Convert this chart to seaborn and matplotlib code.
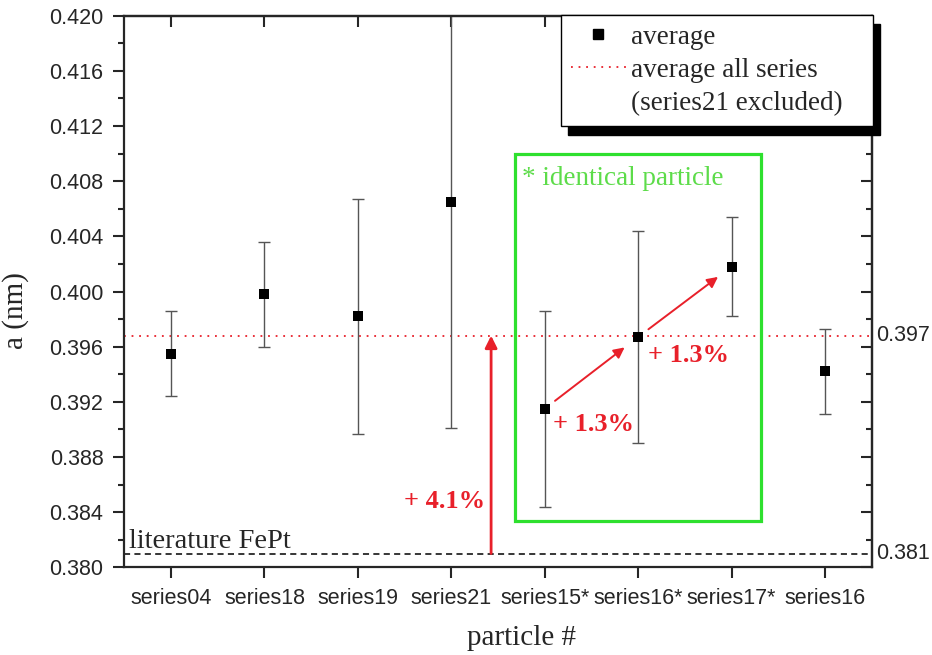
import matplotlib
matplotlib.use("Agg")
import matplotlib.pyplot as plt
import seaborn as sns
import pandas as pd
from matplotlib.lines import Line2D
from matplotlib.patches import Rectangle
from matplotlib.ticker import MultipleLocator, FormatStrFormatter

# ---- data ----
particles = ["series04", "series18", "series19", "series21",
             "series15*", "series16*", "series17*", "series16"]
lattice_a = [0.3955, 0.3998, 0.3982, 0.4065, 0.3915, 0.3967, 0.4018, 0.3942]
lattice_err = [0.0031, 0.0038, 0.0085, 0.0164, 0.0071, 0.0077, 0.0036, 0.0031]
average_all = 0.3968
literature_fept = 0.381
right_labels = ["0.397", "0.381"]
increase_labels = ["+ 4.1%", "+ 1.3%", "+ 1.3%"]

df = pd.DataFrame({"particle": particles, "a": lattice_a, "err": lattice_err})

sns.set_style("ticks")
SERIF = "Liberation Serif"
SANS = "Liberation Sans"
plt.rcParams["font.family"] = [SANS, "DejaVu Sans"]

RED = "#e8202a"
GREEN = "#2ee02e"
GREEN_TXT = "#5ddc4a"

fig = plt.figure(figsize=(9.32, 6.55), dpi=100)
ax = fig.add_axes([0.1334, 0.1339, 0.8019, 0.8421])

ax.errorbar(df["particle"], df["a"], yerr=df["err"], fmt="none",
            ecolor="#555555", elinewidth=1.0, capsize=4, capthick=1.0, zorder=2)
sns.scatterplot(data=df, x="particle", y="a", marker="s", s=58, color="black",
                linewidth=0, legend=False, ax=ax, zorder=3)

ax.axhline(average_all, color=RED, lw=1.3, ls=(0, (1, 3.2)), zorder=1)
ax.axhline(literature_fept, color="black", lw=1.1, ls=(0, (4, 2.8)), zorder=1)

ax.set_xlim(-0.5, 7.5)
ax.set_ylim(0.380, 0.420)
ax.yaxis.set_major_locator(MultipleLocator(0.004))
ax.yaxis.set_minor_locator(MultipleLocator(0.002))
ax.yaxis.set_major_formatter(FormatStrFormatter("%.3f"))

for sp in ax.spines.values():
    sp.set_linewidth(1.6)
    sp.set_visible(True)
ax.tick_params(axis="both", which="major", direction="out", length=8, width=1.5,
               labelsize=15.5, pad=7, top=False, right=False)
ax.tick_params(axis="y", which="minor", direction="out", length=4.5, width=1.5, right=False)
ax.tick_params(axis="x", which="minor", bottom=False, top=False)

# mirrored inward ticks on top and right
ax_top = ax.secondary_xaxis("top")
ax_top.set_xticks(range(len(particles)))
ax_top.tick_params(direction="in", length=8, width=1.5, labeltop=False)
ax_top.set_xticklabels([])
ax_right = ax.secondary_yaxis("right")
ax_right.yaxis.set_major_locator(MultipleLocator(0.004))
ax_right.yaxis.set_minor_locator(MultipleLocator(0.002))
ax_right.tick_params(which="major", direction="in", length=8, width=1.5, labelright=False)
ax_right.tick_params(which="minor", direction="in", length=4.5, width=1.5)
ax_right.set_yticklabels([])
for a2 in (ax_top, ax_right):
    for sp in a2.spines.values():
        sp.set_linewidth(1.6)

for lab in ax.get_xticklabels() + ax.get_yticklabels():
    lab.set_fontfamily(SANS)

ax.set_xlabel("particle #", fontfamily=SERIF, fontsize=21)
ax.set_ylabel("a (nm)", fontfamily=SERIF, fontsize=21)
ax.xaxis.set_label_coords(0.532, -0.104)
ax.yaxis.set_label_coords(-0.128, 0.465)

# right-hand value labels
ytr = ax.get_yaxis_transform()
for val, txt in zip([average_all, literature_fept], right_labels):
    ax.text(1.006, val, txt, transform=ytr, ha="left", va="center",
            fontsize=15.5, fontfamily=SANS, clip_on=False)

# literature label
ax.text(-0.455, literature_fept + 0.00038, "literature FePt", fontfamily=SERIF,
        fontsize=20.5, ha="left", va="baseline")

# identical particle box
x15 = particles.index("series15*")
box = Rectangle((x15 - 0.317, 0.38336), 2.631, 0.02664, fill=False,
                edgecolor=GREEN, lw=2.3, zorder=1.5)
ax.add_patch(box)
ax.text(x15 - 0.242, 0.4077, "* identical particle", color=GREEN_TXT,
        fontfamily=SERIF, fontsize=19.5, ha="left", va="baseline")

# vertical arrow literature -> average
xa = x15 - 0.574
ax.annotate("", xy=(xa, average_all), xytext=(xa, literature_fept),
            arrowprops=dict(arrowstyle="-|>", color=RED, lw=2.0,
                            mutation_scale=18, shrinkA=0, shrinkB=0))
ax.text(xa - 0.065, 0.38475, increase_labels[0], color=RED, fontfamily=SERIF,
        fontweight="bold", fontsize=19, ha="right", va="center")

# diagonal arrows between identical particle measurements
for k, lab in zip([x15, x15 + 1], increase_labels[1:]):
    x0, y0 = k, lattice_a[k]
    x1, y1 = k + 1, lattice_a[k + 1]
    t0, t1 = 0.11, 0.855
    ax.annotate("", xy=(x0 + t1 * (x1 - x0), y0 + t1 * (y1 - y0)),
                xytext=(x0 + t0 * (x1 - x0), y0 + t0 * (y1 - y0)),
                arrowprops=dict(arrowstyle="-|>", color=RED, lw=1.4,
                                mutation_scale=16, shrinkA=0, shrinkB=0))
    ax.text(x0 + 0.085 if k == x15 else x0 + 0.11,
            y0 - (0.00113 if k == x15 else 0.00133),
            lab, color=RED, fontfamily=SERIF, fontweight="bold", fontsize=19,
            ha="left", va="center")

# legend
handles = [Line2D([], [], marker="s", color="black", ls="none", markersize=7.5),
           Line2D([], [], color=RED, lw=1.3, ls=(0, (1, 3.2))),
           Line2D([], [], ls="none")]
labels = ["average", "average all series", "(series21 excluded)"]
leg = ax.legend(handles, labels, loc="upper left",
                bbox_to_anchor=(0.584, 0.0, 0.4173, 1.0013), mode="expand",
                borderaxespad=0, frameon=True, fancybox=False,
                prop={"family": SERIF, "size": 19.5}, handlelength=2.05,
                handletextpad=0.2, borderpad=0.36, labelspacing=0.3,
                numpoints=1,
                shadow={"ox": 5.2, "oy": -6.5, "facecolor": "black",
                        "edgecolor": "black", "alpha": 1})
leg.get_frame().set_edgecolor("black")
leg.get_frame().set_linewidth(1.0)
leg.get_frame().set_alpha(1)
leg.set_zorder(10)

fig.savefig("out.png", dpi=100)
